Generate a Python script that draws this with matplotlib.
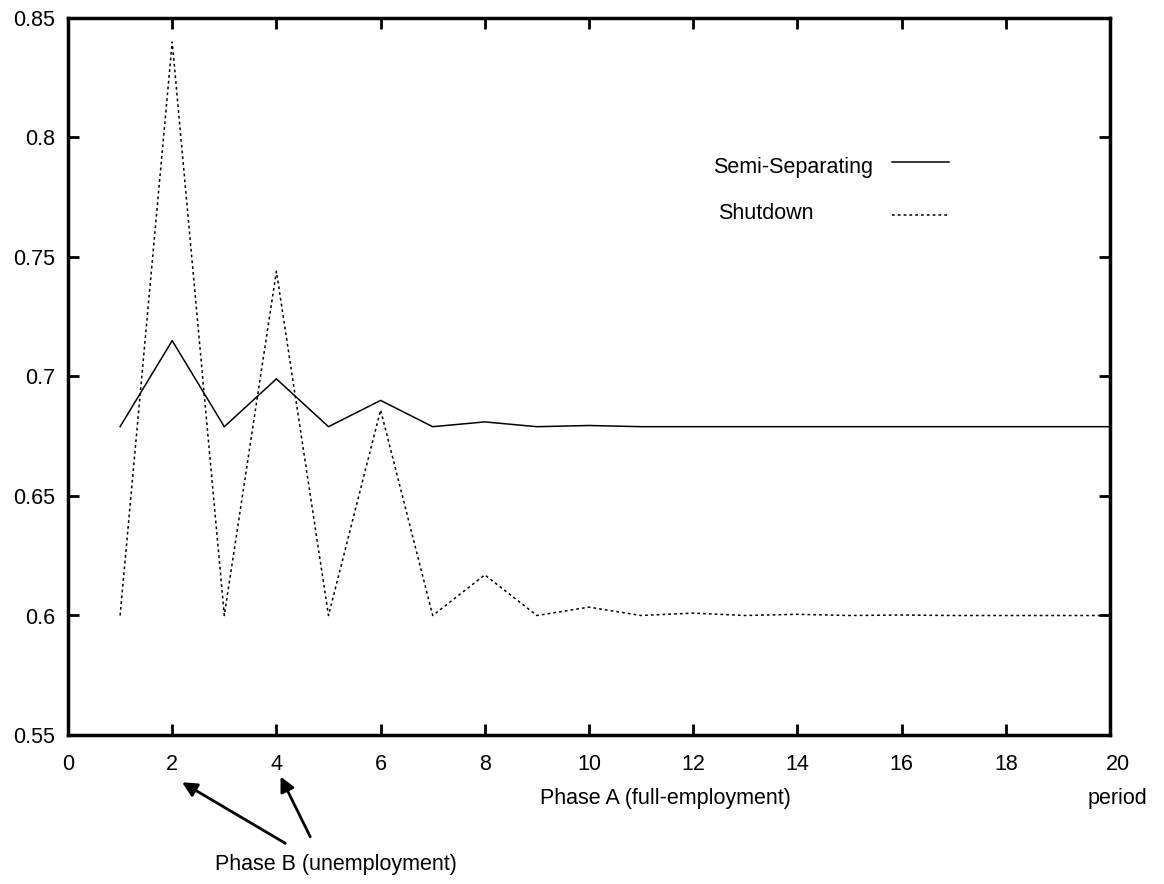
import matplotlib
matplotlib.use("Agg")
import matplotlib.pyplot as plt
from matplotlib.lines import Line2D
from matplotlib.transforms import ScaledTranslation

plt.rcParams['font.family'] = ['Liberation Sans', 'DejaVu Sans']

# periods and series
period = list(range(1, 21))
semi_separating = [0.679, 0.715, 0.679, 0.699, 0.679, 0.690, 0.679, 0.681, 0.679, 0.6795,
                   0.679, 0.679, 0.679, 0.679, 0.679, 0.679, 0.679, 0.679, 0.679, 0.679]
shutdown = [0.600, 0.840, 0.600, 0.744, 0.600, 0.686, 0.600, 0.617, 0.600, 0.6035,
            0.600, 0.601, 0.600, 0.6005, 0.600, 0.6002, 0.600, 0.600, 0.600, 0.600]

xtick_labels = ['0', '2', '4', '6', '8', '10', '12', '14', '16', '18', '20']
ytick_labels = ['0.55', '0.6', '0.65', '0.7', '0.75', '0.8', '0.85']

fs = 15.5
dotted = (0, (1.8, 2.0))

fig = plt.figure(figsize=(11.64, 8.84), dpi=100)
ax = fig.add_axes([68/1164, 1 - 735/884, (1110-68)/1164, (735-18)/884])

ax.plot(period, semi_separating, color='black', lw=1.1, ls='-')
ax.plot(period, shutdown, color='black', lw=1.1, ls=dotted)

ax.set_xlim(0, 20)
ax.set_ylim(0.55, 0.85)

# labels on every value, tick marks only on the inner ones (gnuplot style)
xt = [float(v) for v in xtick_labels]
yt = [float(v) for v in ytick_labels]
ax.set_xticks(xt)
ax.set_xticklabels(xtick_labels, fontsize=fs)
ax.set_yticks(yt)
ax.set_yticklabels(ytick_labels, fontsize=fs)
ax.tick_params(axis='both', direction='in', length=8, width=2, top=True, right=True)
ax.tick_params(axis='x', pad=14)
ax.tick_params(axis='y', pad=9)
for tk in [ax.xaxis.get_major_ticks()[0], ax.xaxis.get_major_ticks()[-1],
           ax.yaxis.get_major_ticks()[0], ax.yaxis.get_major_ticks()[-1]]:
    tk.tick1line.set_visible(False)
    tk.tick2line.set_visible(False)

# the last x label sits a little right of the frame corner
last = ax.get_xticklabels()[-1]
last.set_transform(last.get_transform() + ScaledTranslation(0.08, 0, fig.dpi_scale_trans))

for s in ax.spines.values():
    s.set_linewidth(2.5)

# key, drawn by hand: text on the left, line sample on the right
ax.text(0.619, 0.792, 'Semi-Separating', transform=ax.transAxes, fontsize=fs,
        ha='left', va='center')
ax.text(0.624, 0.728, 'Shutdown', transform=ax.transAxes, fontsize=fs,
        ha='left', va='center')
ax.add_line(Line2D([0.791, 0.8455], [0.799, 0.799], transform=ax.transAxes,
                   color='black', lw=1.1))
ax.add_line(Line2D([0.791, 0.8455], [0.725, 0.725], transform=ax.transAxes,
                   color='black', lw=1.1, ls=dotted))

xa = ax.get_xaxis_transform()
ax.text(11.46, -0.088, 'Phase A (full-employment)', transform=xa, fontsize=fs,
        ha='center', va='center')
ax.text(20.15, -0.088, 'period', transform=xa, fontsize=fs, ha='center', va='center')
ax.text(5.14, -0.181, 'Phase B (unemployment)', transform=xa, fontsize=fs,
        ha='center', va='center')

arrow = dict(arrowstyle='-|>', color='black', lw=2, mutation_scale=22,
             shrinkA=0, shrinkB=0)
ax.annotate('', xy=(2.19, -0.066), xycoords=xa, xytext=(4.17, -0.151),
            textcoords=xa, arrowprops=arrow, annotation_clip=False)
ax.annotate('', xy=(4.08, -0.058), xycoords=xa, xytext=(4.65, -0.142),
            textcoords=xa, arrowprops=arrow, annotation_clip=False)

fig.savefig('out.png', dpi=100)
